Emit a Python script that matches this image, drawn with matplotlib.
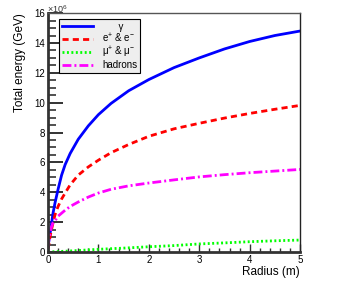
import numpy as np
import matplotlib.pyplot as plt
from matplotlib.ticker import MultipleLocator

plt.rcParams['font.family'] = ['Liberation Sans', 'DejaVu Sans']
plt.rcParams['mathtext.fontset'] = 'custom'
plt.rcParams['mathtext.rm'] = 'Liberation Sans'

# values (energy in units of 1e6 GeV)
radius = [0, 0.02, 0.04, 0.07, 0.1, 0.14, 0.2, 0.27, 0.34, 0.44, 0.6, 0.8,
          1.0, 1.25, 1.6, 2.0, 2.5, 3.0, 3.5, 4.0, 4.5, 5.0]
gamma = [0.3, 0.8, 1.2, 1.9, 2.6, 3.3, 4.2, 5.15, 5.85, 6.6, 7.55, 8.45,
         9.2, 9.95, 10.8, 11.55, 12.35, 13.0, 13.6, 14.1, 14.5, 14.8]
ee = [0.2, 0.55, 1.0, 1.5, 1.95, 2.5, 3.05, 3.55, 3.95, 4.5, 5.15, 5.7,
      6.15, 6.65, 7.2, 7.75, 8.25, 8.62, 8.97, 9.28, 9.56, 9.82]
hadrons = [0.3, 0.9, 1.25, 1.7, 1.95, 2.1, 2.4, 2.6, 2.8, 3.05, 3.35, 3.68,
           3.95, 4.2, 4.43, 4.62, 4.83, 5.03, 5.18, 5.31, 5.42, 5.53]
radius_mu = [0, 0.2, 0.5, 1.0, 1.5, 2.0, 2.5, 3.0, 3.5, 4.0, 4.5, 5.0]
mumu = [0, 0.03, 0.08, 0.18, 0.26, 0.35, 0.43, 0.54, 0.61, 0.69, 0.75, 0.80]

fig = plt.figure(figsize=(3.49, 2.85), dpi=100)
ax = fig.add_axes([0.1375, 0.1158, 0.7225, 0.8382])

ax.plot(radius, gamma, color='#0000ff', lw=2.0, label='      γ')
ax.plot(radius, ee, color='#ff0000', lw=2.0, ls=(0, (2.2, 1.5)), label=r'e$^{+}$ & e$^{-}$')
ax.plot(radius_mu, mumu, color='#00ff00', lw=2.0, ls=(0, (0.7, 0.9)), label=r'μ$^{+}$ & μ$^{-}$')
ax.plot(radius, hadrons, color='#ff00ff', lw=2.0, ls=(0, (3.2, 1.1, 0.7, 1.1)), label='hadrons')

ax.set_xlim(0, 5)
ax.set_ylim(0, 16)
ax.xaxis.set_major_locator(MultipleLocator(1))
ax.xaxis.set_minor_locator(MultipleLocator(0.2))
ax.yaxis.set_major_locator(MultipleLocator(2))
ax.yaxis.set_minor_locator(MultipleLocator(0.5))
ax.tick_params(axis='y', which='major', direction='in', length=11, width=1.4, labelsize=7, pad=2, colors='#333333')
ax.tick_params(axis='y', which='minor', direction='in', length=6, width=1.2, colors='#333333')
ax.tick_params(axis='x', which='major', direction='in', length=6, width=1.0, labelsize=7, pad=2, colors='#333333')
ax.tick_params(axis='x', which='minor', direction='in', length=3, width=1.0, colors='#333333')
for lab in ax.get_xticklabels() + ax.get_yticklabels():
    lab.set_color('black')

ax.spines['left'].set_linewidth(2.0)
ax.spines['bottom'].set_linewidth(2.0)
for s in ['left', 'bottom']:
    ax.spines[s].set_color('#333333')
ax.spines['top'].set_linewidth(1.0)
ax.spines['right'].set_linewidth(1.0)
ax.spines['top'].set_color('#555555')
ax.spines['right'].set_color('#222222')

ax.set_xlabel('Radius (m)', fontsize=8.5, loc='right', labelpad=1)
ax.set_ylabel('Total energy (GeV)', fontsize=8.5, loc='top', labelpad=6)
ax.text(-0.005, 1.0, r'$\times$10$^{6}$', transform=ax.transAxes, fontsize=6.5,
        ha='left', va='baseline', color='#333333')

leg = ax.legend(loc='upper left', bbox_to_anchor=(0.044, 0.975), fontsize=7, frameon=True,
                fancybox=False, borderpad=0.25, labelspacing=0.0, handlelength=3.2,
                handletextpad=1.0, borderaxespad=0)
leg.get_frame().set_facecolor('#eeeeee')
leg.get_frame().set_edgecolor('black')
leg.get_frame().set_linewidth(0.8)
leg.get_frame().set_alpha(1)

fig.savefig('out.png', dpi=100)
